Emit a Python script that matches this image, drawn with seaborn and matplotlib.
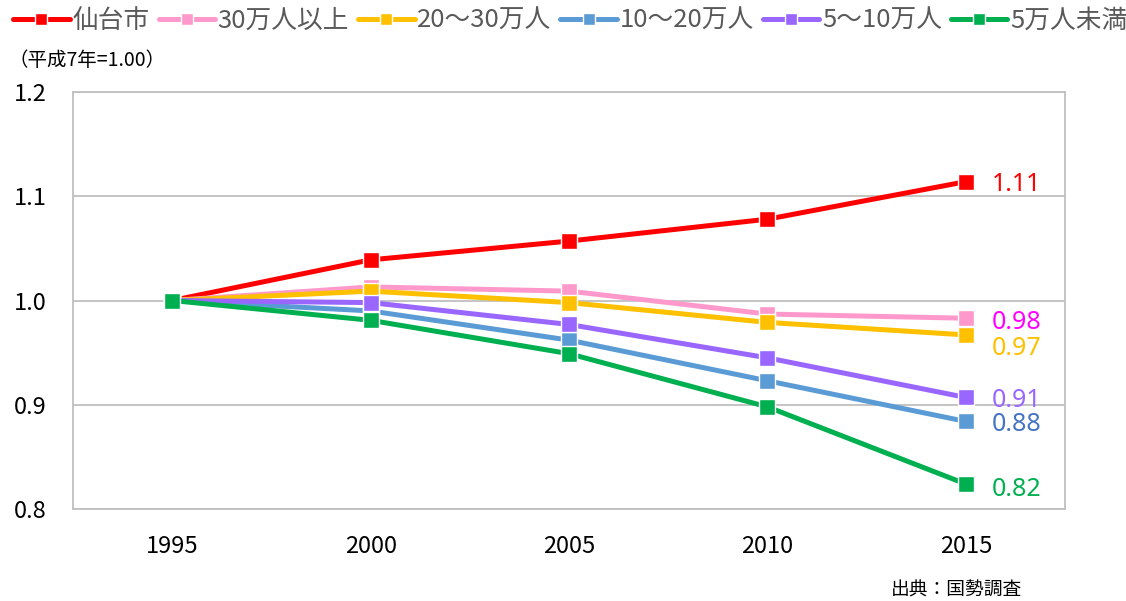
import matplotlib
matplotlib.use("Agg")
import matplotlib.pyplot as plt
import seaborn as sns
import pandas as pd
from matplotlib.lines import Line2D

years = ["1995", "2000", "2005", "2010", "2015"]
series_names = ["仙台市", "30万人以上", "20～30万人", "10～20万人", "5～10万人", "5万人未満"]
sendai = [1.000, 1.039, 1.057, 1.078, 1.114]
over30 = [1.000, 1.013, 1.009, 0.987, 0.983]
from20to30 = [1.000, 1.009, 0.998, 0.979, 0.967]
from10to20 = [1.000, 0.990, 0.962, 0.923, 0.884]
from5to10 = [1.000, 0.998, 0.977, 0.945, 0.907]
under5 = [1.000, 0.981, 0.949, 0.898, 0.824]
end_labels = ["1.11", "0.98", "0.97", "0.88", "0.91", "0.82"]

values = [sendai, over30, from20to30, from10to20, from5to10, under5]
line_colors = ["#FF0000", "#FF99CC", "#FFC000", "#5B9BD5", "#9966FF", "#00B050"]
label_colors = ["#FF0000", "#FF00FF", "#FFC000", "#4472C4", "#9966FF", "#00B050"]
label_dy = [-2, -3, -10, -2, -2, -4]  # pixel-ish nudges for end labels

rows = []
for name, vals in zip(series_names, values):
    for i, (y, v) in enumerate(zip(years, vals)):
        rows.append({"year": y, "idx": i, "series": name, "value": v})
df = pd.DataFrame(rows)

sns.set_theme(style="white")
plt.rcParams["font.family"] = ["Noto Sans CJK JP", "DejaVu Sans"]

fig = plt.figure(figsize=(11.26, 6.01), dpi=100)
ax = fig.add_axes([73 / 1126, 1 - 509 / 601, (1065 - 73) / 1126, (509 - 92) / 601])

sns.lineplot(data=df, x="idx", y="value", hue="series", hue_order=series_names,
             palette=line_colors, marker="s", markersize=12, markeredgecolor="white",
             markeredgewidth=1, linewidth=3.6, dashes=False, legend=False, ax=ax,
             sort=False)

ax.set_xlim(-0.5, 4.5)
ax.set_ylim(0.8, 1.2)
ax.set_xticks(range(len(years)))
ax.set_xticklabels(years)
ax.set_yticks([0.8, 0.9, 1.0, 1.1, 1.2])
ax.set_yticklabels(["0.8", "0.9", "1.0", "1.1", "1.2"])
ax.set_xlabel("")
ax.set_ylabel("")
ax.grid(axis="y", color="#BFBFBF", linewidth=1.3)
ax.set_axisbelow(True)
for s in ax.spines.values():
    s.set_color("#BFBFBF")
    s.set_linewidth(1.3)
ax.tick_params(axis="both", length=0, labelsize=17, colors="#000000")
ax.tick_params(axis="y", pad=19)
ax.tick_params(axis="x", pad=19)

for name, vals, lab, col, dy in zip(series_names, values, end_labels, label_colors, label_dy):
    ax.annotate(lab, xy=(4, vals[-1]), xytext=(19, dy), textcoords="offset points",
                color=col, fontsize=18, va="center", ha="left", family=["Noto Sans", "DejaVu Sans"])

handles = [Line2D([0], [0], color=c, linewidth=3.6, marker="s", markersize=8,
                  markeredgecolor="white", markeredgewidth=1) for c in line_colors]
fig.legend(handles, series_names, loc="upper left", bbox_to_anchor=(-0.002, 1.012), ncol=6,
           frameon=False, fontsize=18.5, handlelength=2.2, handletextpad=0.1,
           columnspacing=0.35, labelcolor="#595959", borderaxespad=0.2)

fig.text(8 / 1126, 1 - 60 / 601, "（平成7年=1.00）", fontsize=14, color="#000000",
         va="center", ha="left")
fig.text(1022 / 1126, 1 - 590 / 601, "出典：国勢調査", fontsize=13.5, color="#000000",
         va="center", ha="right")

fig.savefig("out.png", dpi=100)
